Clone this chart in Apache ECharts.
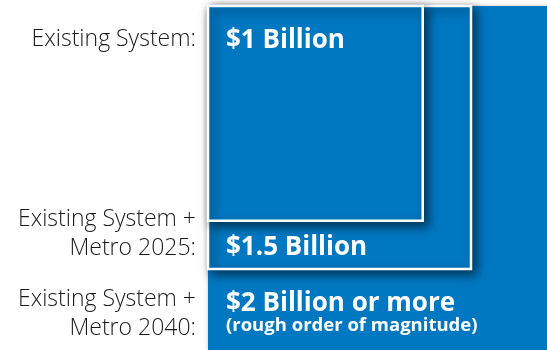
<!DOCTYPE html>
<html><head><meta charset="utf-8">
<script src="https://cdn.jsdelivr.net/npm/echarts@6/dist/echarts.min.js"></script>
<style>html,body{margin:0;padding:0;background:#fff}#chart{width:547px;height:350px}</style>
</head><body><div id="chart"></div>
<script>
// Cost scenarios, in billions of dollars (square area ~ cost)
const categories = ['Existing System:', 'Existing System +\nMetro 2025:', 'Existing System +\nMetro 2040:'];
const costBillions = [1, 1.5, 2];
const openEnded = [false, false, true];          // "or more": square runs to the plot edge
const valueLabels = ['$1 Billion', '$1.5 Billion', '$2 Billion or more'];
const valueNotes = ['', '', '(rough order of magnitude)'];

const BLUE = '#0077C1';
const PX_PER_UNIT = 216;                         // pixels per sqrt(billion)
const GRID = { left: 208, top: 6, width: 341, height: 346 };

const chart = echarts.init(document.getElementById('chart'), null, { renderer: 'canvas' });

// draw the largest square first so the smaller ones sit on top
const seriesData = costBillions.map((v, i) => [v, i]).reverse();

function renderItem(params, api) {
  const i = api.value(1);
  const side = Math.sqrt(api.value(0));
  const p0 = api.coord([0, 0]);
  const sz = api.size([side, side]);
  const cs = params.coordSys;
  const w = openEnded[i] ? cs.x + cs.width - p0[0] : sz[0];
  const h = openEnded[i] ? cs.y + cs.height - p0[1] : sz[1];
  const children = [{
    type: 'rect',
    shape: { x: p0[0], y: p0[1], width: w, height: h },
    style: openEnded[i]
      ? { fill: BLUE, shadowBlur: 4, shadowColor: 'rgba(0,0,0,0.25)' }
      : { fill: BLUE, stroke: '#fff', lineWidth: 2.5, shadowBlur: 10, shadowOffsetX: 4, shadowOffsetY: 4, shadowColor: 'rgba(0,0,0,0.55)' }
  }];
  let cy;
  if (i === 0) {
    cy = p0[1] + 35;
  } else {
    const prev = Math.sqrt(costBillions[i - 1]);
    const prevBottom = p0[1] + api.size([prev, prev])[1];
    cy = (prevBottom + p0[1] + h) / 2 + 3;
  }
  const hasNote = !!valueNotes[i];
  children.push({
    type: 'text',
    style: {
      text: valueLabels[i], x: p0[0] + 18, y: hasNote ? cy - 9 : cy,
      fill: '#fff', fontFamily: 'Open Sans', fontWeight: 'bold', fontSize: 26,
      align: 'left', verticalAlign: 'middle'
    }
  });
  if (hasNote) {
    children.push({
      type: 'text',
      style: {
        text: valueNotes[i], x: p0[0] + 18, y: cy + 13,
        fill: '#fff', fontFamily: 'Open Sans', fontWeight: 'bold', fontSize: 18.5,
        align: 'left', verticalAlign: 'middle'
      }
    });
  }
  return { type: 'group', children };
}

// left-hand scenario names, right-aligned against the squares
const labelCenters = [39, 234, 314];
const graphic = categories.map((t, i) => ({
  type: 'text', x: 196, y: labelCenters[i],
  style: { text: t, fill: '#1a1a1a', fontFamily: 'Open Sans', fontWeight: 300, fontSize: 23, lineHeight: 29, align: 'right', verticalAlign: 'middle' }
}));

chart.setOption({
  animation: false,
  backgroundColor: '#fff',
  grid: GRID,
  xAxis: { type: 'value', min: 0, max: GRID.width / PX_PER_UNIT, show: false },
  yAxis: { type: 'value', min: 0, max: GRID.height / PX_PER_UNIT, inverse: true, show: false },
  graphic,
  series: [{
    type: 'custom',
    renderItem,
    clip: false,
    encode: { x: 0, y: 1 },
    data: seriesData
  }]
});
</script>
</body></html>
